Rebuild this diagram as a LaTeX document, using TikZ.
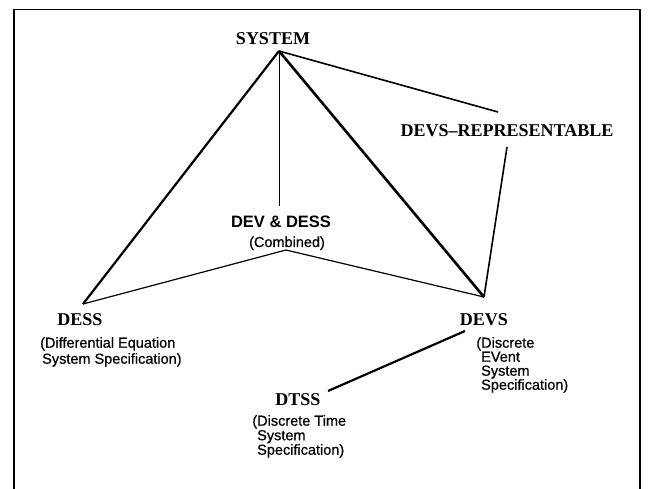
\documentclass[tikz,border=0pt]{standalone}
\usepackage{fontspec}
\setmainfont{Liberation Serif}
\setsansfont{Liberation Sans}
\newfontfamily\scanfont{Liberation Sans}[FakeBold=0.6]
\tikzset{
  title/.style={font=\fontsize{18}{20}\selectfont\bfseries, inner sep=0pt, anchor=base},
  note/.style={font=\fontsize{14.5}{#1}\selectfont\scanfont, inner sep=0pt, align=left, anchor=north west},
  note/.default=14.5,
}
\begin{document}
\begin{tikzpicture}[x=1pt,y=-1pt]
                \useasboundingbox (0,0) rectangle (648,489);
                % frame
                \draw[line width=1.2pt] (14,489) -- (14,9.5) -- (640,9.5) -- (640,489);
                % corner points
                \coordinate (apex) at (279,51);
                \coordinate (dessPt) at (83,304);
                \coordinate (devsPt) at (484,297);
                \coordinate (combPt) at (286,250);
                \coordinate (combTop) at (279,206);
                \coordinate (repTop) at (498,112);
                \coordinate (repLow) at (507,147);
                \coordinate (dtssA) at (328,391);
                \coordinate (dtssB) at (465,331);
                % labels
                \node[title] (system) at (273,45) {SYSTEM};
                \node[title] (devsrep) at (507,137) {DEVS--REPRESENTABLE};
                \node[title, font=\fontsize{16.5}{18}\selectfont\sffamily\bfseries] (devdess) at (281,228) {DEV \& DESS};
                \node[title, font=\fontsize{14.5}{16}\selectfont\scanfont] (combined) at (287,247) {(Combined)};
                \node[title] (dess) at (80,325) {DESS};
                \node[title] (devs) at (484,325) {DEVS};
                \node[title] (dtss) at (298,405) {DTSS};
                \node[note=16] (dessText) at (40,337) {(Differential Equation\\\hspace{2pt}System Specification)};
                \node[note=14] (devsText) at (481,337) {\llap{(}Discrete\\EVent\\System\\Specification)};
                \node[note] (dtssText) at (257,415) {\llap{(}Discrete Time\\System\\Specification)};
                % lines
                \draw[line width=2.2pt] (apex) -- (dessPt);
                \draw[line width=2.6pt] (apex) -- (devsPt);
                \draw[line width=0.8pt] (apex) -- (combTop);
                \draw[line width=1.6pt] (apex) -- (repTop);
                \draw[line width=1.6pt] (repLow) -- (devsPt);
                \draw[line width=1.2pt] (dessPt) -- (combPt) -- (devsPt);
                \draw[line width=2.2pt] (dtssA) -- (dtssB);
\end{tikzpicture}
\end{document}
